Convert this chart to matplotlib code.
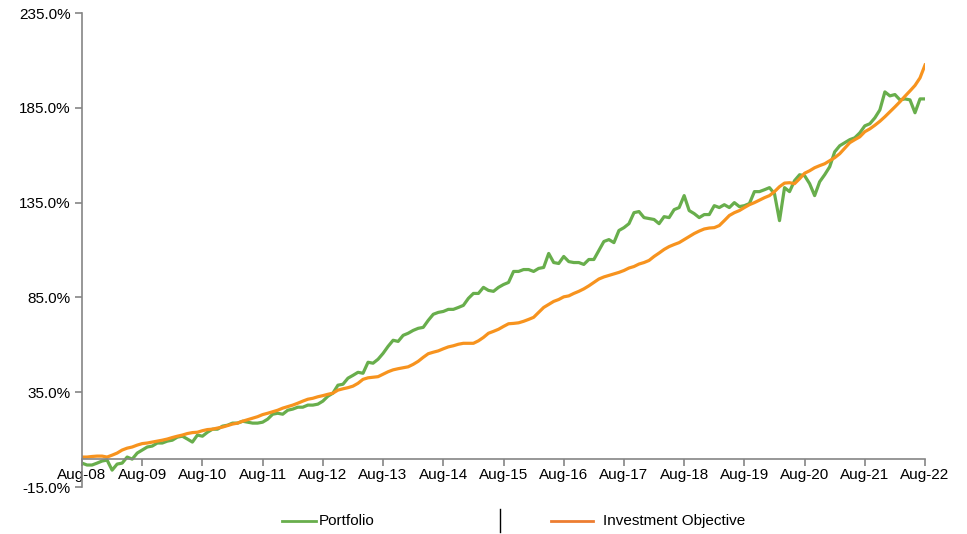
import numpy as np
import matplotlib.pyplot as plt
from matplotlib.lines import Line2D
from matplotlib.ticker import FuncFormatter

plt.rcParams['font.family'] = ['Liberation Sans', 'DejaVu Sans']

# monthly cumulative returns (%), Aug-08 .. Aug-22
portfolio = [
    -2.4, -3.4, -3.4, -2.4, -1.3, -0.8, -6.1, -2.9, -2.4, 0.8, -0.3, 2.9,
    4.5, 6.1, 6.6, 8.2, 8.2, 9.2, 9.7, 11.3, 11.8, 10.3, 8.7, 12.4,
    11.8, 13.9, 15.5, 15.5, 17.1, 17.6, 18.7, 18.7, 19.7, 19.2, 18.7, 18.7,
    19.2, 20.8, 23.4, 23.9, 23.4, 25.5, 26.1, 27.1, 27.1, 28.2, 28.2, 28.7,
    30.3, 32.9, 34.5, 38.7, 39.2, 42.4, 43.9, 45.5, 45.0, 50.8, 50.3, 52.4,
    55.5, 59.2, 62.4, 61.8, 65.0, 66.1, 67.6, 68.7, 69.2, 72.9, 76.1, 77.1,
    77.6, 78.7, 78.7, 79.7, 80.8, 84.5, 87.1, 87.1, 90.3, 88.7, 88.2, 90.3,
    91.8, 92.9, 98.7, 98.7, 99.7, 99.7, 98.7, 100.3, 100.8, 108.2, 103.4, 102.9,
    106.6, 103.9, 103.4, 103.4, 102.4, 105.0, 105.0, 109.7, 114.5, 115.5, 113.9, 120.3,
    121.8, 123.9, 129.7, 130.3, 127.1, 126.6, 126.1, 123.9, 127.6, 127.1, 131.3, 132.4,
    138.7, 130.8, 129.2, 127.1, 128.7, 128.7, 133.4, 132.4, 133.9, 132.4, 135.0, 132.9,
    133.4, 134.5, 140.8, 140.8, 141.8, 142.9, 139.7, 125.5, 142.9, 140.8, 146.6, 149.7,
    149.2, 145.0, 138.7, 146.0, 149.7, 153.9, 161.8, 165.0, 166.6, 168.2, 169.2, 171.8,
    175.5, 176.6, 179.7, 183.9, 193.4, 191.3, 192.0, 189.2, 189.7, 189.2, 182.4, 189.7,
    189.7,
]
objective = [
    0.8, 0.8, 1.1, 1.3, 1.3, 0.8, 1.8, 2.9, 4.5, 5.5, 6.1, 7.1,
    7.9, 8.2, 8.7, 9.2, 9.7, 10.3, 11.1, 11.8, 12.4, 13.2, 13.7, 13.9,
    14.7, 15.3, 15.5, 16.1, 16.6, 17.4, 18.2, 18.7, 19.7, 20.5, 21.3, 22.1,
    23.2, 23.9, 24.7, 25.5, 26.6, 27.4, 28.2, 29.2, 30.3, 31.3, 31.8, 32.6,
    33.2, 33.9, 34.5, 36.1, 36.8, 37.4, 38.2, 39.7, 41.8, 42.6, 42.9, 43.2,
    44.5, 45.8, 46.8, 47.4, 47.9, 48.4, 49.7, 51.3, 53.4, 55.3, 56.1, 56.8,
    57.9, 58.9, 59.5, 60.3, 60.8, 60.8, 60.8, 62.1, 63.9, 66.1, 67.1, 68.2,
    69.7, 71.1, 71.3, 71.6, 72.4, 73.4, 74.5, 77.1, 79.7, 81.3, 82.9, 83.9,
    85.3, 85.8, 87.1, 88.2, 89.5, 91.1, 92.9, 94.7, 95.8, 96.6, 97.4, 98.2,
    99.2, 100.5, 101.3, 102.6, 103.4, 104.5, 106.6, 108.4, 110.3, 111.8, 112.9, 113.9,
    115.5, 117.1, 118.7, 120.0, 121.1, 121.6, 121.8, 122.9, 125.5, 128.2, 129.7, 130.8,
    132.4, 133.9, 135.0, 136.3, 137.6, 138.7, 140.8, 143.4, 145.3, 145.5, 145.0, 147.6,
    150.5, 151.8, 153.4, 154.5, 155.5, 157.1, 158.7, 160.8, 163.7, 166.6, 168.2, 169.7,
    172.4, 173.9, 175.8, 177.9, 180.3, 182.9, 185.5, 188.2, 191.1, 193.9, 196.8, 200.8,
    207.6,
]
year_labels = ['Aug-%02d' % y for y in range(8, 23)]
y_ticks = [-15, 35, 85, 135, 185, 235]

green = '#68AE4C'
orange = '#F7931E'
axis_grey = '#858585'

months = np.arange(len(portfolio))

fig = plt.figure(figsize=(9.67, 5.34), dpi=100)
ax = fig.add_axes([0.0848, 0.088, 0.8718, 0.8876])

ax.plot(months, portfolio, color=green, lw=2.3, solid_joinstyle='round')
ax.plot(months, objective, color=orange, lw=2.3, solid_joinstyle='round')

ax.set_xlim(0, len(portfolio) - 1)
ax.set_ylim(-15, 235)
ax.set_yticks(y_ticks)
ax.yaxis.set_major_formatter(FuncFormatter(lambda v, p: '%.1f%%' % v))
ax.set_xticks(np.arange(0, len(portfolio), 12))
ax.set_xticklabels(year_labels)

for s in ['top', 'right']:
    ax.spines[s].set_visible(False)
ax.spines['bottom'].set_position(('data', 0))
ax.spines['bottom'].set_color(axis_grey)
ax.spines['left'].set_color(axis_grey)
ax.spines['bottom'].set_linewidth(1.2)
ax.spines['left'].set_linewidth(1.2)
ax.tick_params(axis='both', colors=axis_grey, length=5, width=1.2,
               labelcolor='black', labelsize=11)
ax.tick_params(axis='x', pad=2)
ax.tick_params(axis='y', pad=3)

# legend at the bottom with a separator
ly = 1 - 521 / 534
fig.add_artist(Line2D([282 / 967, 316 / 967], [ly, ly], color=green, lw=2))
fig.text(319 / 967, ly, 'Portfolio', va='center', ha='left', fontsize=11)
fig.add_artist(Line2D([500 / 967, 500 / 967], [1 - 509 / 534, 1 - 532 / 534],
                      color='black', lw=1))
fig.add_artist(Line2D([551 / 967, 593 / 967], [ly, ly], color='#ED7D31', lw=2))
fig.text(603 / 967, ly, 'Investment Objective', va='center', ha='left', fontsize=11)

fig.savefig('out.png', dpi=100)
